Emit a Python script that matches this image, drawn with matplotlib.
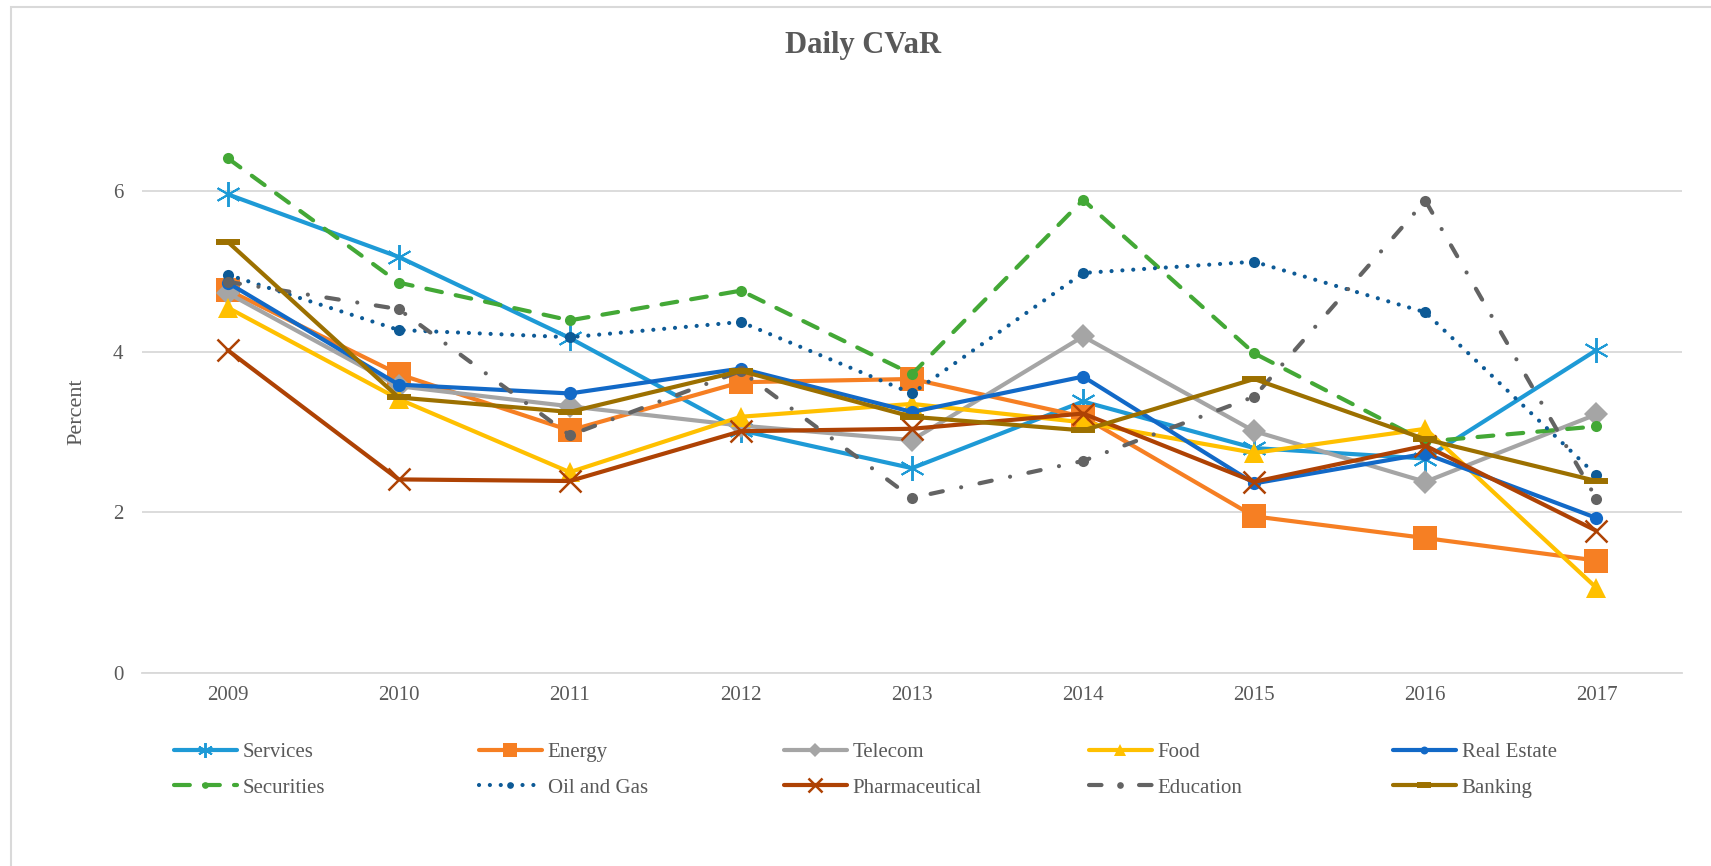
import matplotlib
matplotlib.use("Agg")
import matplotlib.pyplot as plt
from matplotlib.patches import Rectangle

plt.rcParams["font.family"] = ["Liberation Serif", "DejaVu Serif"]

years = ["2009", "2010", "2011", "2012", "2013", "2014", "2015", "2016", "2017"]

services = [5.96, 5.18, 4.17, 3.02, 2.55, 3.38, 2.80, 2.67, 4.02]
energy = [4.77, 3.72, 3.02, 3.62, 3.66, 3.19, 1.95, 1.68, 1.40]
telecom = [4.73, 3.57, 3.32, 3.08, 2.90, 4.19, 3.01, 2.38, 3.22]
food = [4.55, 3.41, 2.50, 3.19, 3.35, 3.12, 2.74, 3.04, 1.06]
real_estate = [4.86, 3.59, 3.48, 3.79, 3.25, 3.69, 2.36, 2.73, 1.93]
securities = [6.41, 4.86, 4.39, 4.76, 3.72, 5.89, 3.98, 2.88, 3.07]
oil_gas = [4.96, 4.27, 4.18, 4.37, 3.48, 4.98, 5.12, 4.49, 2.46]
pharma = [4.02, 2.41, 2.39, 3.01, 3.04, 3.23, 2.38, 2.83, 1.77]
education = [4.87, 4.53, 2.96, 3.76, 2.18, 2.64, 3.44, 5.88, 2.17]
banking = [5.37, 3.43, 3.25, 3.76, 3.19, 3.02, 3.66, 2.91, 2.39]

TEXT = "#595959"
GRID = "#D9D9D9"

# name, values, color, marker, markersize, marker edge width, dash pattern
series = [
    ("Services", services, "#1E9AD6", (6, 2, 0), 18, 1.4, None),
    ("Energy", energy, "#F67F23", "s", 17, 0, None),
    ("Telecom", telecom, "#A5A5A5", "D", 12, 0, None),
    ("Food", food, "#FFC000", "^", 15, 0, None),
    ("Real Estate", real_estate, "#1269C7", "o", 9.5, 0, None),
    ("Securities", securities, "#43A836", "o", 8, 0, (3.8, 3.4)),
    ("Oil and Gas", oil_gas, "#0D5A96", "o", 8, 0, (0.01, 2.6)),
    ("Pharmaceutical", pharma, "#AE4204", "x", 16, 1.8, None),
    ("Education", education, "#636363", "o", 8, 0, (3, 4.5, 0.01, 4.5)),
    ("Banking", banking, "#9C7000", "_", 17, 4.3, None),
]

W, H = 1711, 866
fig = plt.figure(figsize=(W / 100, H / 100), dpi=100)
ax = fig.add_axes([142 / W, 1 - 673 / H, 1540 / W, (673 - 110.7) / H])

xs = list(range(len(years)))
handles = []
for name, vals, color, marker, ms, mew, dashes in series:
    kw = dict(color=color, lw=3.0, marker=marker, markersize=ms,
              markeredgewidth=mew, markerfacecolor=color, markeredgecolor=color,
              solid_joinstyle="round", solid_capstyle="round", label=name)
    if dashes is not None:
        kw.update(dash_capstyle="round", dash_joinstyle="round")
    line, = ax.plot(xs, vals, **kw)
    if dashes is not None:
        line.set_dashes(dashes)
    handles.append(line)

ax.set_xlim(-0.5, len(years) - 0.5)
ax.set_ylim(0, 7)
ax.set_xticks(xs)
ax.set_xticklabels(years)
ax.set_yticks([0, 2, 4, 6])
ax.tick_params(axis="both", length=0, labelsize=15, colors=TEXT)
ax.tick_params(axis="y", pad=13.5)
ax.tick_params(axis="x", pad=9)
ax.grid(axis="y", color=GRID, lw=1.3)
ax.set_axisbelow(True)
for side in ["top", "right", "left"]:
    ax.spines[side].set_visible(False)
ax.spines["bottom"].set_color(GRID)
ax.spines["bottom"].set_linewidth(1.3)

ax.set_ylabel("Percent", fontsize=16, color=TEXT, va="center")
ax.yaxis.set_label_coords((77 - 142) / 1540, (673 - 412) / (673 - 110.7))

fig.text(863 / W, 1 - 45 / H, "Daily CVaR", ha="center", va="center",
         fontsize=22, fontweight="bold", color=TEXT)

# legend: five columns, two rows, laid out like the spreadsheet legend
col_x = [174, 479, 784, 1089, 1393]
for i, x in enumerate(col_x):
    pair = [handles[i], handles[i + 5]]
    leg = fig.legend(handles=pair, labels=[h.get_label() for h in pair],
                     loc="center left", bbox_to_anchor=(x / W, 1 - 770 / H),
                     frameon=False, fontsize=15, handlelength=3.0,
                     handletextpad=0.3, labelspacing=0.78, borderpad=0,
                     borderaxespad=0, markerscale=0.6)
    for t in leg.get_texts():
        t.set_color(TEXT)

fig.patches.append(Rectangle((11 / W, -0.05), 1.1, 1.05 - 7 / H, transform=fig.transFigure,
                             fill=False, edgecolor=GRID, lw=1.5))

fig.savefig("out.png", dpi=100)
